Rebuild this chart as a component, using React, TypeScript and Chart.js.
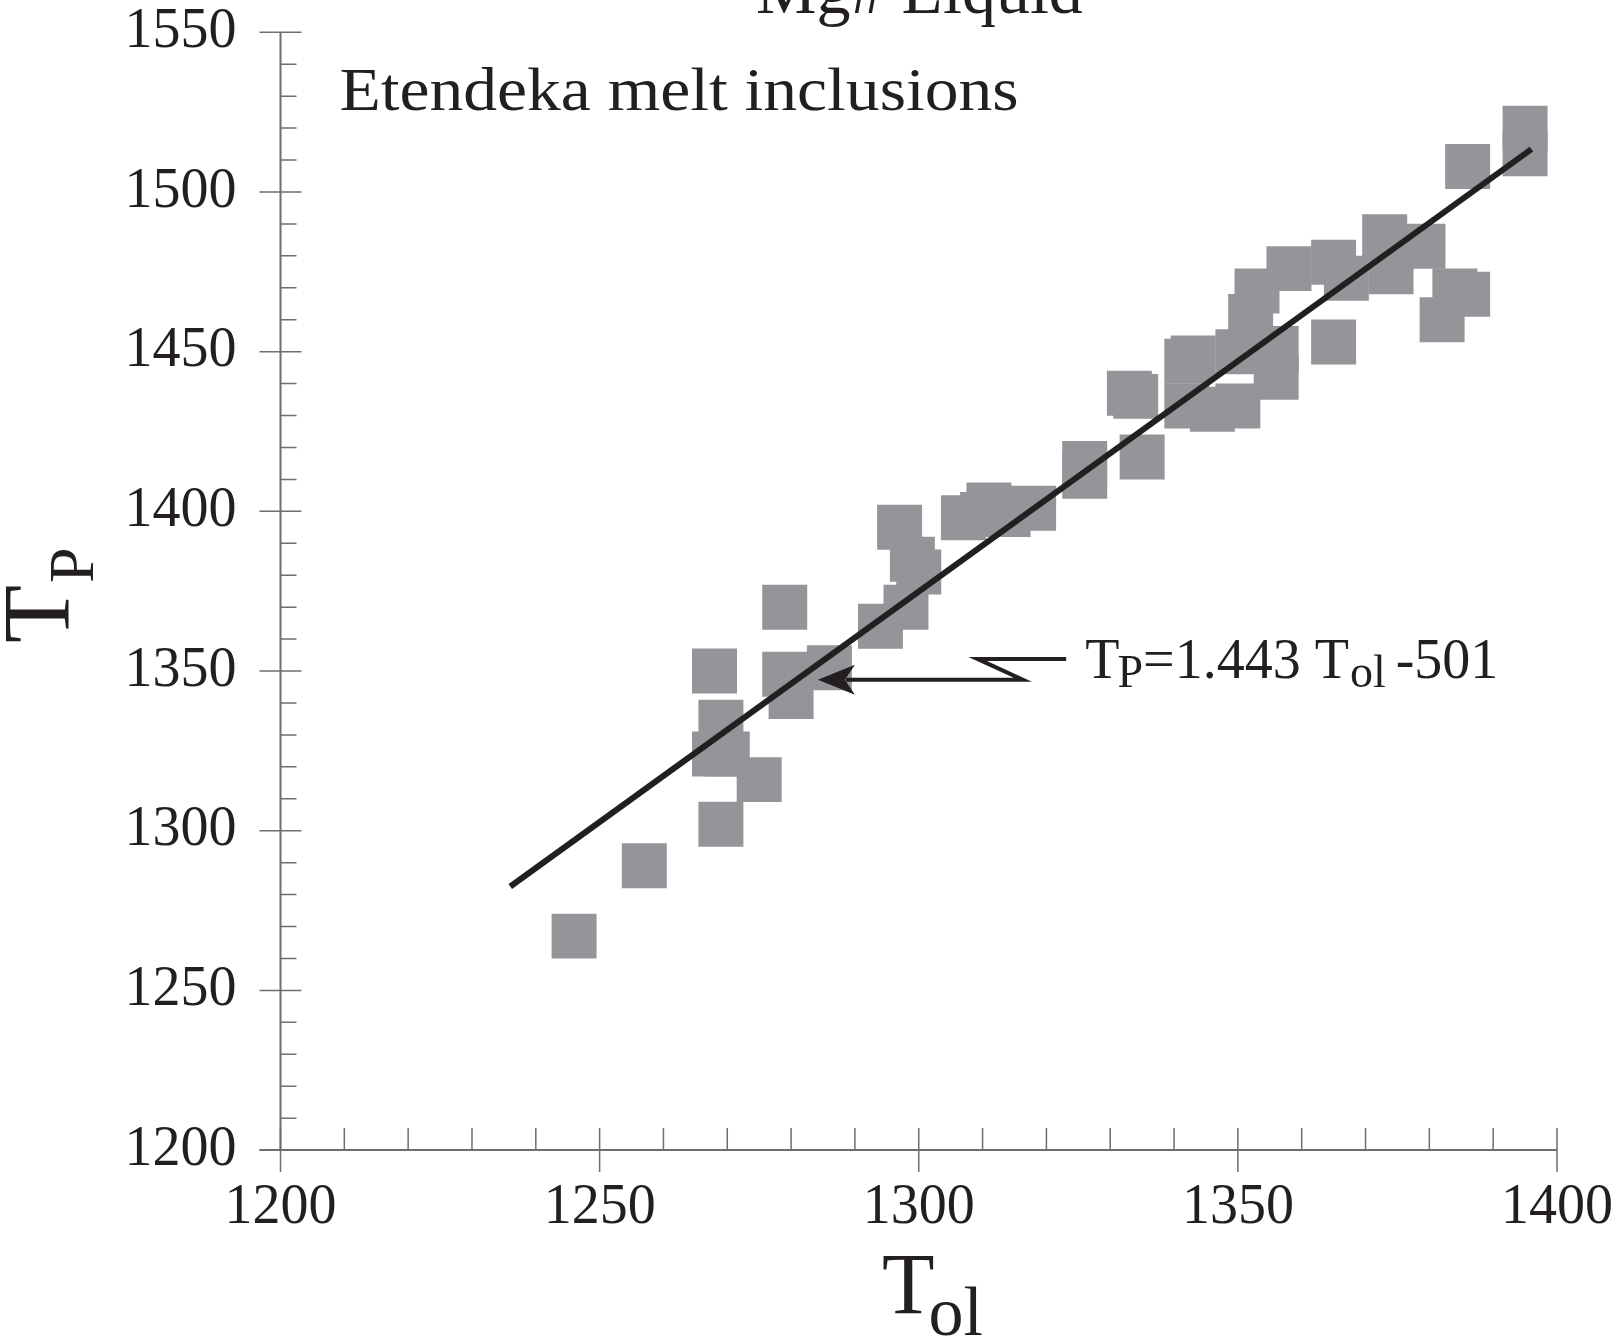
import { useEffect, useRef } from "react";
import { Chart, registerables } from "chart.js";

Chart.register(...registerables);

// Olivine-liquid equilibration temperature of each Etendeka melt inclusion (°C)
const tOl = [
  1246, 1257, 1269, 1275, 1269, 1268, 1270, 1268, 1279, 1279,
  1280, 1286, 1294, 1298, 1299, 1300, 1297, 1307, 1311, 1310,
  1318, 1314, 1326, 1326, 1335, 1333, 1334, 1342, 1343, 1342,
  1350, 1356, 1350, 1356, 1352, 1353, 1358, 1365, 1367, 1365,
  1374, 1373, 1379, 1384, 1386, 1382, 1386, 1395, 1395, 1346,
];
// Mantle potential temperature of the same inclusions (°C)
const tP = [
  1267, 1289, 1302, 1316, 1334, 1324, 1324, 1350, 1370, 1349,
  1342, 1351, 1364, 1370, 1385, 1381, 1395, 1398, 1402, 1399,
  1401, 1399, 1415, 1411, 1417, 1437, 1436, 1447, 1448, 1433,
  1433, 1442, 1450, 1451, 1461, 1469, 1476, 1478, 1473, 1453,
  1475, 1486, 1483, 1469, 1468, 1460, 1508, 1520, 1512, 1432,
];

// Least-squares fit  T_P = 1.443 T_ol - 501, drawn over this T_ol span
const fitSlope = 1.443;
const fitIntercept = -501;
const fitTOl = [1236, 1396];

// Axis ranges and tick spacing
const xRange = [1200, 1400];
const yRange = [1200, 1550];
const majorStep = 50;
const minorStep = 10;

// Callout pointing at the fit line (data units), and where its label starts
const calloutTOl = [1323.1, 1309.2, 1316.3, 1284.2];
const calloutTP = [1353.8, 1353.8, 1347.3, 1347.3];
const equationAt = { x: 1326.1, y: 1347.8 };

const FONT = "'Liberation Serif', 'Times New Roman', serif";
const INK = "#231f20";
const AXIS = "#6d6e71";
const MARK = "#939598";

type Seg = { text: string; size: number; dy: number; kern?: number };

function drawRun(ctx: CanvasRenderingContext2D, x: number, y: number, segs: Seg[]) {
  let cx = x;
  for (const s of segs) {
    ctx.font = `${s.size}px ${FONT}`;
    ctx.fillText(s.text, cx, y + s.dy);
    cx += ctx.measureText(s.text).width + (s.kern ?? 0);
  }
}

// Draws text widened horizontally so it spans the given width
function drawWide(ctx: CanvasRenderingContext2D, text: string, x: number, y: number, size: number, width: number) {
  ctx.save();
  ctx.font = `${size}px ${FONT}`;
  const k = width / ctx.measureText(text).width;
  ctx.translate(x, y);
  ctx.scale(k, 1);
  ctx.fillText(text, 0, 0);
  ctx.restore();
}

const decorPlugin = {
  id: "decor",
  beforeDatasetsDraw(chart: any) {
    const { ctx } = chart;
    const xs = chart.scales.x;
    const ys = chart.scales.y;
    const x0 = xs.getPixelForValue(xRange[0]);
    const x1 = xs.getPixelForValue(xRange[1]);
    const y0 = ys.getPixelForValue(yRange[0]);
    const y1 = ys.getPixelForValue(yRange[1]);
    ctx.save();
    ctx.strokeStyle = AXIS;
    ctx.lineCap = "butt";

    // axis lines
    ctx.lineWidth = 2;
    ctx.beginPath();
    ctx.moveTo(x0, y1);
    ctx.lineTo(x0, y0);
    ctx.moveTo(x0 - 21, y0);
    ctx.lineTo(x1, y0);
    ctx.stroke();

    ctx.lineWidth = 1.5;
    ctx.beginPath();
    // y ticks: majors cross the axis, minors point inward
    for (let v = yRange[0]; v <= yRange[1]; v += minorStep) {
      const py = ys.getPixelForValue(v);
      const major = (v - yRange[0]) % majorStep === 0;
      ctx.moveTo(major ? x0 - 21 : x0, py);
      ctx.lineTo(major ? x0 + 21 : x0 + 16, py);
    }
    // x ticks
    for (let v = xRange[0]; v <= xRange[1]; v += minorStep) {
      const px = xs.getPixelForValue(v);
      const major = (v - xRange[0]) % majorStep === 0;
      ctx.moveTo(px, y0 - 22);
      ctx.lineTo(px, major ? y0 + 22 : y0);
    }
    ctx.stroke();
    ctx.restore();
  },
  afterDraw(chart: any) {
    const { ctx, chartArea } = chart;
    const xs = chart.scales.x;
    const ys = chart.scales.y;
    ctx.save();
    ctx.fillStyle = INK;
    ctx.textAlign = "left";
    ctx.textBaseline = "alphabetic";

    // callout with zig-zag and stealth arrowhead
    const pts = calloutTOl.map((v, i) => [xs.getPixelForValue(v), ys.getPixelForValue(calloutTP[i])]);
    const tip = pts[pts.length - 1];
    ctx.strokeStyle = INK;
    ctx.lineWidth = 4;
    ctx.lineJoin = "miter";
    ctx.beginPath();
    ctx.moveTo(pts[0][0], pts[0][1]);
    for (let i = 1; i < pts.length - 1; i++) ctx.lineTo(pts[i][0], pts[i][1]);
    ctx.lineTo(tip[0] + 28, tip[1]);
    ctx.stroke();
    ctx.beginPath();
    ctx.moveTo(tip[0], tip[1]);
    ctx.lineTo(tip[0] + 37, tip[1] - 15);
    ctx.lineTo(tip[0] + 27, tip[1]);
    ctx.lineTo(tip[0] + 37, tip[1] + 15);
    ctx.closePath();
    ctx.fill();

    // regression equation
    const ex = xs.getPixelForValue(equationAt.x);
    const ey = ys.getPixelForValue(equationAt.y);
    drawRun(ctx, ex, ey, [
      { text: "T", size: 56, dy: 0, kern: -2 },
      { text: "P", size: 46, dy: 9 },
      { text: "=1.443 T", size: 56, dy: 0, kern: 1 },
      { text: "ol", size: 46, dy: 9, kern: -4 },
      { text: " -501", size: 56, dy: 0 },
    ]);

    // panel label
    drawWide(ctx, "Etendeka melt inclusions", chartArea.left + 59, 110, 62, 679);

    // caption of the panel above, mostly out of frame
    ctx.font = `68px ${FONT}`;
    ctx.fillText("Mg# Liquid", 756, 13);

    // x-axis title: T_ol
    drawRun(ctx, 882, 1313, [
      { text: "T", size: 86, dy: 0, kern: -6 },
      { text: "ol", size: 70, dy: 22 },
    ]);

    // y-axis title: T_P, reading upward
    ctx.translate(69, 643);
    ctx.rotate(-Math.PI / 2);
    drawRun(ctx, 0, 0, [
      { text: "T", size: 95, dy: 0, kern: 2 },
      { text: "P", size: 64, dy: 24 },
    ]);
    ctx.restore();
  },
};

export default function App() {
  const ref = useRef<HTMLCanvasElement | null>(null);

  useEffect(() => {
    if (!ref.current) return;
    const points = tOl.map((x, i) => ({ x, y: tP[i] }));
    const fit = fitTOl.map((x) => ({ x, y: fitSlope * x + fitIntercept }));

    const chart = new Chart(ref.current, {
      type: "scatter",
      data: {
        datasets: [
          {
            type: "line",
            label: "fit",
            data: fit,
            borderColor: INK,
            borderWidth: 6,
            pointRadius: 0,
            fill: false,
            tension: 0,
            clip: false,
          } as any,
          {
            label: "Etendeka melt inclusions",
            data: points,
            pointStyle: "rect",
            pointRadius: 31.8,
            pointHoverRadius: 31.8,
            backgroundColor: MARK,
            borderWidth: 0,
            clip: false,
          } as any,
        ],
      },
      options: {
        animation: false,
        responsive: false,
        devicePixelRatio: 1,
        events: [],
        layout: { autoPadding: false, padding: { left: 0, top: 32.3, right: 55.5, bottom: 0 } },
        plugins: {
          legend: { display: false },
          tooltip: { enabled: false },
          title: { display: false },
        },
        scales: {
          x: {
            type: "linear",
            min: xRange[0],
            max: xRange[1],
            border: { display: false },
            // tick marks are drawn by the decor plugin; tickLength only offsets the labels
            grid: { display: false, drawTicks: true, tickLength: 30 },
            ticks: {
              stepSize: majorStep,
              autoSkip: false,
              maxRotation: 0,
              padding: 0,
              color: INK,
              font: { family: FONT, size: 56, lineHeight: 1 },
              callback: (v: any) => String(v),
            },
            afterFit: (s: any) => {
              s.height = 189.9;
            },
          },
          y: {
            type: "linear",
            min: yRange[0],
            max: yRange[1],
            border: { display: false },
            grid: { display: false, drawTicks: true, tickLength: 44 },
            ticks: {
              stepSize: majorStep,
              autoSkip: false,
              padding: 0,
              color: INK,
              font: { family: FONT, size: 56, lineHeight: 1 },
              callback: (v: any) => String(v),
            },
            afterFit: (s: any) => {
              s.width = 280.5;
            },
          },
        },
      },
      plugins: [decorPlugin],
    });
    return () => chart.destroy();
  }, []);

  return (
    <div style={{ position: "fixed", left: 0, top: 0, width: 1613, height: 1340, background: "#ffffff" }}>
      <canvas ref={ref} width={1613} height={1340} style={{ width: 1613, height: 1340, display: "block" }} />
    </div>
  );
}
